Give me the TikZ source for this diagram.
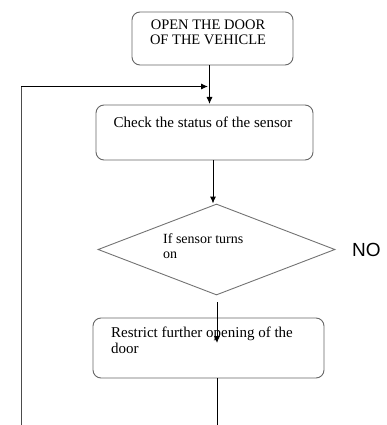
\documentclass[tikz,border=0pt]{standalone}
\usepackage{fontspec}
\setmainfont{Liberation Serif}
\newfontfamily\nofont{Liberation Sans}
\usetikzlibrary{shapes.geometric,arrows.meta}
\begin{document}
\begin{tikzpicture}[x=1pt,y=-1pt,
  boxstyle/.style={draw=black!60,line width=0.9pt,rounded corners=8pt,inner sep=0pt,rectangle},
  dstyle/.style={draw=black!55,line width=0.9pt,diamond,inner sep=0pt,aspect=2.6},
  txt/.style={inner sep=0pt,font=\fontsize{15}{16}\selectfont},
  conn/.style={draw=black,line width=0.9pt},
  arr/.style={conn,-{Latex[length=7pt,width=6pt]}}]
\useasboundingbox (0,0) rectangle (386,425);
% boxes
\node[boxstyle,minimum width=161pt,minimum height=53pt] (b1) at (212.5,38.5) {};
\node[txt,align=center,font=\fontsize{14.5}{15}\selectfont,anchor=center] (t1) at (208,32.5) {OPEN THE DOOR\\OF THE VEHICLE};
\node[boxstyle,minimum width=217pt,minimum height=55pt] (b2) at (204.5,132.5) {};
\node[txt,anchor=center] (t2) at (203,122) {Check the status of the sensor};
\node[dstyle,minimum width=237pt,minimum height=91pt] (d) at (216.5,249.5) {};
\node[txt,align=left,anchor=north west,font=\fontsize{14}{15}\selectfont] (t3) at (163,233) {If sensor turns\\on};
\node[anchor=west,inner sep=0pt,font=\nofont\fontsize{19}{20}\selectfont] (no) at (352,250) {NO};
\node[boxstyle,minimum width=231pt,minimum height=60pt] (b3) at (208.5,348) {};
\node[txt,align=left,anchor=north west,font=\fontsize{15}{16}\selectfont] (t4) at (111,327) {Restrict further opening of the\\door};
% coordinates
\coordinate (loopb) at (21,425);
\coordinate (loopt) at (21,86.5);
\coordinate (loope) at (208,86.5);
\coordinate (dstart) at (217,302);
\coordinate (dend) at (217,343);
\coordinate (bend) at (217,425);
% connectors
\draw[arr] (b1.south -| 209.5,0) -- (209.5,104);
\draw[conn,draw=black!70] (loopb) -- (loopt);
\draw[arr] (loopt) -- (loope);
\draw[arr] (213,160) -- (d.north -| 213,0);
\draw[arr] (dstart) -- (dend);
\draw[conn] (b3.south -| bend) -- (bend);
\end{tikzpicture}
\end{document}
